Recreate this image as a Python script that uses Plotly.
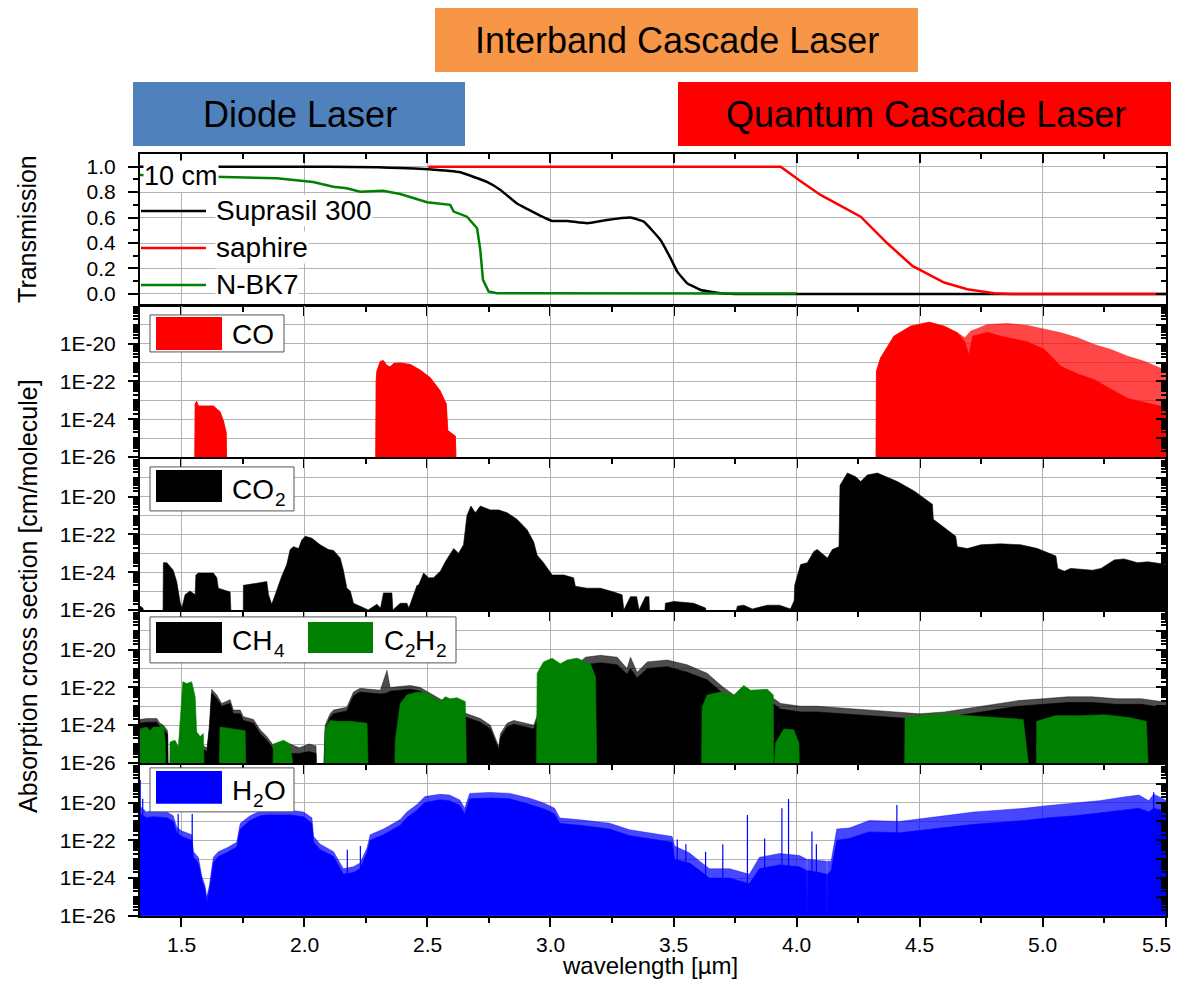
import plotly.graph_objects as go

# drawing area shown without rescaling; rows are laid out with a small vertical stretch
W, H = 1171, 988
SY = 1.0111
FONT = "Arial, 'Liberation Sans', sans-serif"

# ---------------- Transmission of 10 cm thick windows ----------------
supra_wl = [1.333, 1.6, 1.9, 2.1, 2.3, 2.39, 2.505, 2.634, 2.742, 2.797, 2.864, 2.905, 2.96, 3.007,
            3.068, 3.149, 3.23, 3.325, 3.379, 3.447, 3.488, 3.515, 3.555, 3.61, 3.69, 3.75, 4.0, 5.5]
supra_T = [1.0, 1.0, 1.0, 1.0, 0.995, 0.99, 0.98, 0.956, 0.88, 0.817, 0.71, 0.668, 0.613, 0.573,
           0.573, 0.555, 0.581, 0.60, 0.568, 0.424, 0.28, 0.175, 0.084, 0.031, 0.005, 0.0, 0.0, 0.0]

saph_wl = [2.504, 3.0, 3.5, 3.935, 4.009, 4.097, 4.26, 4.368, 4.47, 4.599, 4.693, 4.802, 4.87, 5.5]
saph_T = [1.0, 1.0, 1.0, 1.0, 0.895, 0.778, 0.607, 0.398, 0.22, 0.089, 0.037, 0.005, 0.0, 0.0]

bk7_wl = [1.333, 1.67, 1.889, 2.036, 2.118, 2.173, 2.227, 2.32, 2.39, 2.499, 2.593, 2.607, 2.661,
          2.702, 2.715, 2.726, 2.749, 2.783, 3.5, 4.0]
bk7_T = [0.935, 0.92, 0.909, 0.88, 0.843, 0.83, 0.804, 0.81, 0.785, 0.72, 0.70, 0.647, 0.607,
         0.516, 0.346, 0.11, 0.018, 0.005, 0.003, 0.003]

# ---------------- Absorption cross sections, log10(cm^2/molecule) ----------------
# -27 marks wavelengths with no absorption above the plotted floor
co_wl = [1.555, 1.557, 1.563, 1.570, 1.631, 1.658, 1.672, 1.683, 1.686,
         2.290, 2.292, 2.295, 2.309, 2.322, 2.336, 2.349, 2.363, 2.390, 2.431, 2.458, 2.471, 2.512,
         2.552, 2.577, 2.583, 2.614, 2.618,
         4.322, 4.324, 4.341, 4.395, 4.463, 4.538, 4.599, 4.653, 4.683, 4.707, 4.775, 4.856, 4.937,
         5.005, 5.073, 5.141, 5.208, 5.276, 5.344, 5.411, 5.473, 5.505]
co_tip = [-27, -23.2, -23.05, -23.3, -23.3, -23.6, -24.1, -24.7, -27,
          -27, -22.0, -21.46, -20.93, -20.9, -21.16, -21.23, -21.05, -21.02, -21.1, -21.28, -21.4, -21.8,
          -22.5, -23.2, -24.6, -24.9, -27,
          -27, -21.46, -20.75, -19.6, -19.07, -18.86, -19.07, -19.42, -19.69, -19.34, -18.98, -18.93,
          -19.03, -19.21, -19.42, -19.69, -20.04, -20.31, -20.66, -20.93, -21.28, -21.45]
co_core_wl = [4.322, 4.324, 4.341, 4.395, 4.463, 4.538, 4.599, 4.653, 4.683, 4.700, 4.715, 4.775,
              4.829, 4.937, 5.005, 5.073, 5.141, 5.208, 5.276, 5.344, 5.411, 5.473, 5.505]
co_core = [-27, -21.46, -20.75, -19.6, -19.07, -18.86, -19.07, -19.42, -19.9, -20.6, -19.6, -19.4,
           -19.6, -19.9, -20.3, -21.2, -21.6, -21.9, -22.4, -22.9, -23.1, -23.3, -23.4]

co2_wl = [1.333, 1.345, 1.36, 1.426, 1.428, 1.442, 1.468, 1.482, 1.496, 1.503, 1.516, 1.536, 1.557,
          1.560, 1.570, 1.631, 1.645, 1.651, 1.672, 1.699, 1.705, 1.752, 1.753, 1.794, 1.848, 1.855,
          1.868, 1.882, 1.909, 1.929, 1.943, 1.956, 1.977, 1.990, 2.004, 2.031, 2.065, 2.098, 2.119,
          2.146, 2.159, 2.173, 2.187, 2.200, 2.227, 2.26, 2.295, 2.31, 2.322, 2.356, 2.360, 2.39,
          2.417, 2.425, 2.458, 2.464, 2.485, 2.505, 2.525, 2.553, 2.573, 2.607, 2.627, 2.647, 2.661,
          2.677, 2.695, 2.715, 2.756, 2.790, 2.824, 2.864, 2.905, 2.932, 2.946, 2.972, 3.007, 3.054,
          3.094, 3.101, 3.149, 3.203, 3.257, 3.291, 3.298, 3.325, 3.35, 3.36, 3.386, 3.40, 3.405,
          3.46, 3.467, 3.501, 3.582, 3.630, 3.64, 3.74, 3.759, 3.785, 3.82, 3.881, 3.93, 3.975, 3.99,
          3.992, 4.016, 4.043, 4.070, 4.084, 4.111, 4.125, 4.145, 4.172, 4.176, 4.206, 4.240, 4.260,
          4.287, 4.328, 4.409, 4.477, 4.551, 4.555, 4.646, 4.652, 4.693, 4.748, 4.829, 4.910, 4.978,
          5.053, 5.060, 5.087, 5.113, 5.202, 5.236, 5.290, 5.330, 5.385, 5.426, 5.505]
co2_log = [-25.8, -25.9, -27, -27, -23.5, -23.5, -23.9, -24.5, -25.6, -25.9, -25.2, -25.0, -25.2,
           -24.15, -24.05, -24.05, -24.3, -24.85, -24.95, -25.05, -27, -27, -24.7, -24.6, -24.5, -25.2,
           -25.7, -25.2, -24.2, -23.6, -22.8, -22.65, -22.75, -22.3, -22.1, -22.2, -22.55, -22.8, -22.85,
           -23.25, -23.9, -24.85, -25.0, -25.65, -25.8, -26.0, -25.7, -25.9, -25.1, -25.1, -26.0, -25.65,
           -25.65, -25.9, -24.7, -24.7, -24.05, -24.3, -24.3, -23.95, -23.45, -22.75, -23.0, -22.55, -21.0,
           -20.5, -20.85, -20.5, -20.7, -20.7, -20.85, -21.2, -21.75, -22.4, -23.1, -23.5, -24.15, -24.15,
           -24.3, -24.75, -24.85, -24.85, -25.05, -25.2, -26.0, -25.3, -25.3, -26.0, -25.3, -25.3, -27,
           -27, -25.65, -25.55, -25.65, -25.9, -27, -27, -25.8, -25.75, -25.95, -25.75, -25.75, -25.95, -25.5,
           -24.7, -23.6, -23.5, -22.9, -22.8, -23.1, -23.25, -22.8, -22.65, -19.4, -18.75, -18.95, -19.2,
           -18.85, -18.75, -19.2, -19.7, -20.4, -21.2, -22.1, -22.65, -22.75, -22.55, -22.5, -22.55, -22.75,
           -23.15, -23.8, -23.95, -23.8, -23.9, -23.8, -23.35, -23.3, -23.5, -23.45, -23.6]

ch4_wl = [1.333, 1.360, 1.401, 1.414, 1.428, 1.445, 1.448, 1.57, 1.575, 1.605, 1.615, 1.624, 1.645,
          1.665, 1.699, 1.712, 1.740, 1.753, 1.794, 1.821, 1.848, 1.868, 1.882, 1.90, 1.943, 1.98,
          2.02, 2.048, 2.050, 2.078, 2.085, 2.105, 2.119, 2.173, 2.200, 2.227, 2.309, 2.336, 2.349,
          2.431, 2.471, 2.55, 2.661, 2.715, 2.756, 2.790, 2.797, 2.824, 2.851, 2.932, 2.96, 3.05,
          3.142, 3.203, 3.271, 3.311, 3.325, 3.352, 3.393, 3.474, 3.555, 3.636, 3.698, 3.745, 3.908,
          3.935, 4.016, 4.084, 4.2, 4.3, 4.4, 4.5, 4.6, 4.7, 4.8, 4.9, 5.0, 5.1, 5.2, 5.3, 5.4, 5.505]
ch4_tip = [-23.7, -23.65, -23.65, -23.9, -24.0, -24.3, -27, -27, -25.0, -25.2, -24.0, -22.1, -22.4,
           -22.85, -22.65, -23.2, -23.2, -23.55, -23.7, -24.25, -24.6, -24.95, -25.3, -25.5, -25.0, -25.2,
           -25.0, -25.1, -27, -27, -24.0, -23.4, -23.2, -23.05, -22.25, -22.05, -22.15, -21.1, -22.0,
           -21.9, -22.0, -22.6, -23.4, -23.65, -24.0, -25.15, -24.45, -23.9, -23.75, -24.0, -23.0, -21.5,
           -20.4, -20.3, -20.4, -21.0, -20.4, -21.2, -20.65, -20.55, -20.8, -21.25, -21.95, -22.4, -22.6,
           -22.85, -23.0, -23.0, -23.1, -23.2, -23.3, -23.4, -23.3, -23.1, -22.9, -22.7, -22.6, -22.5,
           -22.5, -22.6, -22.6, -22.8]
ch4_core = [-23.9, -23.85, -23.85, -24.1, -24.2, -24.5, -27, -27, -25.2, -25.4, -24.2, -22.3, -22.6,
            -23.0, -22.85, -23.4, -23.4, -23.75, -23.9, -24.45, -24.8, -25.15, -25.5, -25.8, -25.5, -25.5,
            -25.4, -25.5, -27, -27, -24.3, -23.6, -23.4, -23.25, -22.45, -22.25, -22.35, -22.3, -22.2,
            -22.1, -22.2, -22.8, -23.6, -23.85, -24.2, -25.3, -24.65, -24.1, -23.95, -24.2, -23.3, -21.8,
            -20.8, -20.7, -20.8, -21.3, -21.0, -21.5, -21.0, -20.9, -21.2, -21.6, -22.3, -22.7, -22.9,
            -23.15, -23.3, -23.3, -23.4, -23.5, -23.6, -23.7, -23.6, -23.4, -23.2, -23.0, -22.9, -22.8,
            -22.8, -22.9, -22.9, -23.1]

c2h2_wl = [1.333, 1.360, 1.374, 1.387, 1.414, 1.428, 1.435, 1.439, 1.453, 1.455, 1.475, 1.489, 1.496,
           1.507, 1.523, 1.543, 1.557, 1.563, 1.577, 1.590, 1.595, 1.654, 1.658, 1.712, 1.760, 1.764,
           1.872, 1.875, 1.916, 1.943, 1.963, 2.081, 2.085, 2.105, 2.133, 2.187, 2.255, 2.261, 2.366,
           2.370, 2.390, 2.417, 2.458, 2.498, 2.525, 2.553, 2.573, 2.593, 2.620, 2.654, 2.660, 2.943,
           2.946, 2.972, 3.007, 3.040, 3.068, 3.108, 3.162, 3.183, 3.189, 3.613, 3.616, 3.636, 3.691,
           3.745, 3.785, 3.813, 3.881, 3.905, 3.907, 3.914, 3.948, 3.988, 4.009, 4.012,
           4.438, 4.44, 4.5, 4.6, 4.7, 4.8, 4.92, 4.95, 4.973, 4.975, 5.05, 5.15, 5.25, 5.35, 5.42, 5.43]
c2h2_log = [-24.2, -24.1, -24.3, -24.1, -24.1, -24.0, -24.8, -27, -27, -24.9, -24.8, -25.15, -23.55,
            -21.7, -21.8, -21.7, -22.5, -24.35, -24.6, -24.45, -27, -27, -24.1, -24.2, -24.3, -27,
            -27, -25.0, -24.8, -25.0, -27, -27, -24.2, -23.75, -23.8, -23.8, -23.9, -27, -27,
            -24.8, -22.85, -22.4, -22.25, -22.3, -22.5, -22.75, -22.5, -22.6, -22.55, -22.75, -27, -27,
            -21.25, -20.65, -20.45, -20.75, -20.55, -20.45, -20.75, -21.45, -27, -27, -23.05, -22.4, -22.25,
            -22.4, -21.9, -22.15, -22.1, -22.4, -27, -24.95, -24.2, -24.25, -24.95, -27,
            -27, -23.6, -23.5, -23.4, -23.5, -23.6, -23.7, -27, -27, -23.8, -23.5, -23.5, -23.45, -23.6, -23.8, -27]

h2o_wl = [1.333, 1.36, 1.387, 1.442, 1.468, 1.482, 1.503, 1.543, 1.550, 1.570, 1.584, 1.597, 1.604,
          1.615, 1.631, 1.651, 1.685, 1.726, 1.740, 1.780, 1.821, 1.848, 1.943, 1.997, 2.031, 2.038,
          2.065, 2.119, 2.146, 2.159, 2.200, 2.227, 2.255, 2.268, 2.322, 2.390, 2.417, 2.458, 2.49,
          2.551, 2.59, 2.632, 2.652, 2.672, 2.754, 2.835, 2.916, 2.977, 3.017, 3.038, 3.119, 3.24,
          3.321, 3.403, 3.494, 3.504, 3.565, 3.606, 3.646, 3.727, 3.808, 3.849, 3.93, 4.011, 4.040,
          4.042, 4.044, 4.092, 4.121, 4.123, 4.125, 4.14, 4.163, 4.214, 4.295, 4.417, 4.519, 4.62,
          4.72, 4.823, 4.924, 5.026, 5.128, 5.229, 5.33, 5.39, 5.43, 5.45, 5.505]
h2o_tip = [-20.2, -20.5, -20.4, -20.5, -20.7, -21.3, -21.5, -21.7, -22.6, -22.9, -23.9, -24.4, -25.0,
           -24.4, -22.9, -22.6, -22.4, -22.1, -21.1, -20.7, -20.45, -20.4, -20.4, -20.5, -20.8, -21.8,
           -22.2, -22.6, -23.2, -23.5, -23.4, -23.2, -22.4, -21.7, -21.4, -20.9, -20.5, -20.1, -19.68,
           -19.56, -19.6, -19.86, -20.3, -19.51, -19.46, -19.51, -19.77, -20.04, -20.3, -20.82, -20.91, -21.09,
           -21.44, -21.61, -21.79, -22.3, -22.67, -23.1, -23.5, -23.5, -23.8, -22.9, -22.7, -22.8, -23.0,
           -27, -23.0, -23.07, -23.1, -27, -23.1, -23.1, -21.4, -21.35, -20.95, -21.0, -20.82, -20.65,
           -20.5, -20.4, -20.3, -20.15, -20.04, -19.9, -19.7, -19.6, -19.9, -19.55, -19.9]
h2o_core = [-20.6, -20.8, -20.75, -20.8, -21.0, -21.6, -21.8, -22.0, -22.9, -23.2, -24.1, -24.6, -25.3,
            -24.6, -23.2, -22.85, -22.65, -22.35, -21.4, -20.95, -20.7, -20.65, -20.65, -20.75, -21.1, -22.1,
            -22.5, -22.85, -23.45, -23.8, -23.7, -23.5, -22.65, -22.0, -21.7, -21.2, -20.8, -20.4, -20.0,
            -19.85, -19.9, -20.15, -20.6, -19.8, -19.75, -19.8, -20.1, -20.35, -20.6, -21.1, -21.2, -21.4,
            -21.75, -21.9, -22.1, -23.0, -23.2, -23.6, -24.0, -24.0, -24.3, -23.5, -23.3, -23.4, -23.6,
            -27, -23.6, -23.7, -23.8, -27, -23.8, -23.6, -22.0, -21.9, -21.55, -21.6, -21.45, -21.3,
            -21.15, -21.05, -20.95, -20.8, -20.7, -20.55, -20.4, -20.3, -20.5, -20.3, -20.5]
# isolated strong water lines standing above the dense forest
h2o_spike_wl = [1.334, 1.344, 1.488, 1.545, 2.175, 2.228, 3.515, 3.55, 3.63, 3.70, 3.80, 3.87,
                3.94, 3.967, 4.062, 4.08, 4.407, 5.45]
h2o_spike_log = [-18.8, -19.8, -20.6, -20.6, -22.5, -22.3, -21.96, -22.2, -22.6, -22.2, -20.65, -21.9,
                 -20.3, -19.81, -21.53, -22.2, -20.12, -19.45]

x_ticks = [1.5, 2.0, 2.5, 3.0, 3.5, 4.0, 4.5, 5.0, 5.5]

FLOOR = -27.0
XR = [1.333, 5.5]
PANELS = [(154, 305), (306, 457), (459, 610), (612, 763), (765, 916)]


def px(v):
    """pixel column -> paper x"""
    return v / W


def py(v):
    """pixel row -> paper y"""
    return 1 - v * SY / H


def area(wl, lg):
    xs = [wl[0]] + list(wl) + [wl[-1]]
    ys = [10.0 ** v for v in [FLOOR] + list(lg) + [FLOOR]]
    return xs, ys


fig = go.Figure()


def add_fill(wl, lg, color, row):
    xs, ys = area(wl, lg)
    sfx = "" if row == 1 else str(row)
    fig.add_trace(go.Scatter(x=xs, y=ys, mode="lines", fill="toself", fillcolor=color,
                             line=dict(color=color, width=0.6), hoverinfo="skip",
                             showlegend=False, xaxis="x" + sfx, yaxis="y" + sfx))


# transmission curves
fig.add_trace(go.Scatter(x=supra_wl, y=supra_T, mode="lines",
                         line=dict(color="#000000", width=2.5, shape="spline", smoothing=0.3),
                         showlegend=False, hoverinfo="skip", xaxis="x", yaxis="y"))
fig.add_trace(go.Scatter(x=saph_wl, y=saph_T, mode="lines", line=dict(color="#FF0000", width=2.5),
                         showlegend=False, hoverinfo="skip", xaxis="x", yaxis="y"))
fig.add_trace(go.Scatter(x=bk7_wl, y=bk7_T, mode="lines", line=dict(color="#008000", width=2.5),
                         showlegend=False, hoverinfo="skip", xaxis="x", yaxis="y"))

# CO
add_fill(co_wl, co_tip, "rgba(255,0,0,0.72)", 2)
add_fill(co_wl[:27], co_tip[:27], "#FF0000", 2)
add_fill(co_core_wl, co_core, "#FF0000", 2)
# CO2
add_fill(co2_wl, co2_log, "#000000", 3)
# CH4 and C2H2
add_fill(ch4_wl, ch4_tip, "rgba(0,0,0,0.7)", 4)
add_fill(ch4_wl, ch4_core, "#000000", 4)
add_fill(c2h2_wl, c2h2_log, "#008000", 4)
# H2O
add_fill(h2o_wl, h2o_tip, "rgba(0,0,255,0.72)", 5)
add_fill(h2o_wl, h2o_core, "#0000FF", 5)
sx, sy = [], []
for w, v in zip(h2o_spike_wl, h2o_spike_log):
    sx += [w, w, None]
    sy += [1e-27, 10.0 ** v, None]
fig.add_trace(go.Scatter(x=sx, y=sy, mode="lines", line=dict(color="#0000FF", width=1.2),
                         showlegend=False, hoverinfo="skip", xaxis="x5", yaxis="y5"))

# invisible anchors for the mirrored tick axes
fig.add_trace(go.Scatter(x=[2.0], y=[0.5], mode="markers", marker=dict(opacity=0),
                         showlegend=False, hoverinfo="skip", xaxis="x6", yaxis="y"))
for i in range(1, 6):
    sfx = "" if i == 1 else str(i)
    fig.add_trace(go.Scatter(x=[2.0], y=[0.5 if i == 1 else 1e-22], mode="markers",
                             marker=dict(opacity=0), showlegend=False, hoverinfo="skip",
                             xaxis="x" + sfx, yaxis="y" + str(i + 5)))

tickfont = dict(family=FONT, size=21, color="black")
GRID = "#b4b4b4"
log_major = [1e-26, 1e-24, 1e-22, 1e-20]
log_labels = ["1E-26", "1E-24", "1E-22", "1E-20"]
log_all = [10.0 ** k for k in range(-26, -17)]
log_minor = [m * 10.0 ** k for k in range(-26, -18) for m in range(1, 10)
             if not (m == 1 and k % 2 == 0)]

layout = dict(width=W, height=H, margin=dict(l=0, r=0, t=0, b=0),
              paper_bgcolor="white", plot_bgcolor="white", showlegend=False)

for i, (top, bot) in enumerate(PANELS, start=1):
    sfx = "" if i == 1 else str(i)
    xa = dict(domain=[px(140), px(1166)], range=XR, anchor="y" + sfx, tickvals=x_ticks,
              ticks="outside", ticklen=9, tickwidth=2, tickcolor="black",
              showline=True, linecolor="black", linewidth=2, mirror=True,
              showgrid=True, gridcolor=GRID, gridwidth=1, zeroline=False,
              minor=dict(dtick=0.25, tick0=0, ticks="outside", ticklen=5, tickwidth=2,
                         tickcolor="black", showgrid=False),
              showticklabels=False)
    if i > 1:
        xa["matches"] = "x"
    layout["xaxis" + sfx] = xa
    ya = dict(domain=[py(bot), py(top)], anchor="x" + sfx, ticks="outside", ticklen=10,
              tickwidth=2, tickcolor="black", showline=True, linecolor="black", linewidth=2,
              mirror=True, showgrid=True, gridcolor=GRID, gridwidth=1, zeroline=False,
              tickfont=tickfont, ticklabelstandoff=8)
    ra = dict(overlaying="y" + sfx, side="right", anchor="x" + sfx, ticks="inside", ticklen=10,
              tickwidth=2, tickcolor="black", showline=False, showgrid=False, zeroline=False,
              showticklabels=False)
    if i == 1:
        ya.update(range=[-0.087, 1.1], tickvals=[0, 0.2, 0.4, 0.6, 0.8, 1.0],
                  ticktext=["0.0", "0.2", "0.4", "0.6", "0.8", "1.0"],
                  minor=dict(tickvals=[0.1, 0.3, 0.5, 0.7, 0.9], ticks="outside", ticklen=5,
                             tickwidth=2, tickcolor="black", showgrid=False))
        ra.update(range=[-0.087, 1.1], tickvals=[0, 0.2, 0.4, 0.6, 0.8, 1.0],
                  minor=dict(tickvals=[0.1, 0.3, 0.5, 0.7, 0.9], ticks="inside", ticklen=5,
                             tickwidth=2, tickcolor="black"))
    else:
        ya.update(type="log", range=[-26, -18], tickvals=log_major, ticktext=log_labels,
                  minor=dict(tickvals=log_minor, ticks="outside", ticklen=5, tickwidth=1.5,
                             tickcolor="black", showgrid=False))
        # the right-hand axis carries a grid line at every decade
        ra.update(type="log", range=[-26, -18], tickvals=log_all, showgrid=True,
                  gridcolor=GRID, gridwidth=1,
                  minor=dict(tickvals=log_minor, ticks="inside", ticklen=5, tickwidth=1.5,
                             tickcolor="black"))
    layout["yaxis" + sfx] = ya
    layout["yaxis" + str(i + 5)] = ra

layout["xaxis6"] = dict(overlaying="x", side="top", anchor="y", range=XR, tickvals=x_ticks,
                        ticks="inside", ticklen=9, tickwidth=2, tickcolor="black",
                        showline=False, showgrid=False, zeroline=False, showticklabels=False,
                        minor=dict(dtick=0.25, tick0=0, ticks="inside", ticklen=5, tickwidth=2,
                                   tickcolor="black"))

fig.update_layout(**layout)

shapes = []
ann = []


def text(x, y, s, size, anchor="left", **kw):
    ann.append(dict(x=px(x), y=py(y), xref="paper", yref="paper", text=s, showarrow=False,
                    xanchor=anchor, yanchor="middle",
                    font=dict(family=FONT, size=size, color="black"), **kw))


# wavelength tick labels under the bottom panel (the last one kept inside the page edge)
for v in x_ticks:
    ann.append(dict(x=v, xref="x5", y=py(945), yref="paper", text="%.1f" % v, showarrow=False,
                    xanchor="center", yanchor="middle", xshift=-10 if v == 5.5 else 0,
                    font=tickfont))

# laser banners
for (x0, y0, x1, y1, col, txt, tx) in [
        (435, 8, 918, 72, "#F79646", "Interband Cascade Laser", 677),
        (133, 82, 465, 146, "#4F81BD", "Diode Laser", 300),
        (678, 82, 1174, 146, "#FF0000", "Quantum Cascade Laser", 926)]:
    shapes.append(dict(type="rect", xref="paper", yref="paper", x0=px(x0), x1=min(px(x1), 1.0),
                       y0=py(y1), y1=py(y0), fillcolor=col, line=dict(width=0), layer="above"))
    text(tx, (y0 + y1) / 2 + 1, txt, 36, anchor="center")

# transmission legend
text(143, 176, "10 cm", 27, bgcolor="white", borderpad=0)
for yy, col, txt in [(211, "#000000", "Suprasil 300"), (248, "#FF0000", "saphire"),
                     (285, "#008000", "N-BK7")]:
    shapes.append(dict(type="line", xref="paper", yref="paper", x0=px(141), x1=px(206),
                       y0=py(yy), y1=py(yy), line=dict(color=col, width=2.5), layer="above"))
    text(215, yy, txt, 28, bgcolor="white", borderpad=0)

# species legends in the absorption panels: (frame, swatches, label pieces)
# label pieces are (x, text, size, vertical shift) so subscripts sit below the baseline
legend_boxes = [
    ((150, 315, 284, 352), [(156, 317, 222, 350, "#FF0000")],
     [(230, "CO", 28, 0)]),
    ((150, 467, 294, 511), [(156, 470, 222, 502, "#000000")],
     [(230, "CO", 28, 0), (273, "2", 19, 10)]),
    ((150, 617, 456, 663), [(156, 622, 222, 653, "#000000"), (308, 622, 373, 653, "#008000")],
     [(230, "CH", 28, 0), (272, "4", 19, 10), (382, "C", 28, 0), (403, "2", 19, 10),
      (413, "H", 28, 0), (434, "2", 19, 10)]),
    ((150, 768, 294, 812), [(156, 771, 222, 804, "#0000FF")],
     [(230, "H", 28, 0), (251, "2", 19, 10), (262, "O", 28, 0)]),
]
for (bx0, by0, bx1, by1), swatches, pieces in legend_boxes:
    shapes.append(dict(type="rect", xref="paper", yref="paper", x0=px(bx0), x1=px(bx1),
                       y0=py(by1), y1=py(by0), fillcolor="white",
                       line=dict(color="#555555", width=1), layer="above"))
    for sx0, sy0, sx1, sy1, col in swatches:
        shapes.append(dict(type="rect", xref="paper", yref="paper", x0=px(sx0), x1=px(sx1),
                           y0=py(sy1), y1=py(sy0), fillcolor=col, line=dict(width=0),
                           layer="above"))
    mid = (by0 + by1) / 2 + 1
    for tx, s, size, dy in pieces:
        text(tx, mid + dy, s, size)

# axis titles
text(27, 229, "Transmission", 25, anchor="center", textangle=-90)
text(28, 596, "Absorption cross section [cm/molecule]", 25, anchor="center", textangle=-90)
text(650, 966, "wavelength [µm]", 24, anchor="center")

fig.update_layout(shapes=shapes, annotations=ann)
fig.write_html("out.html")
